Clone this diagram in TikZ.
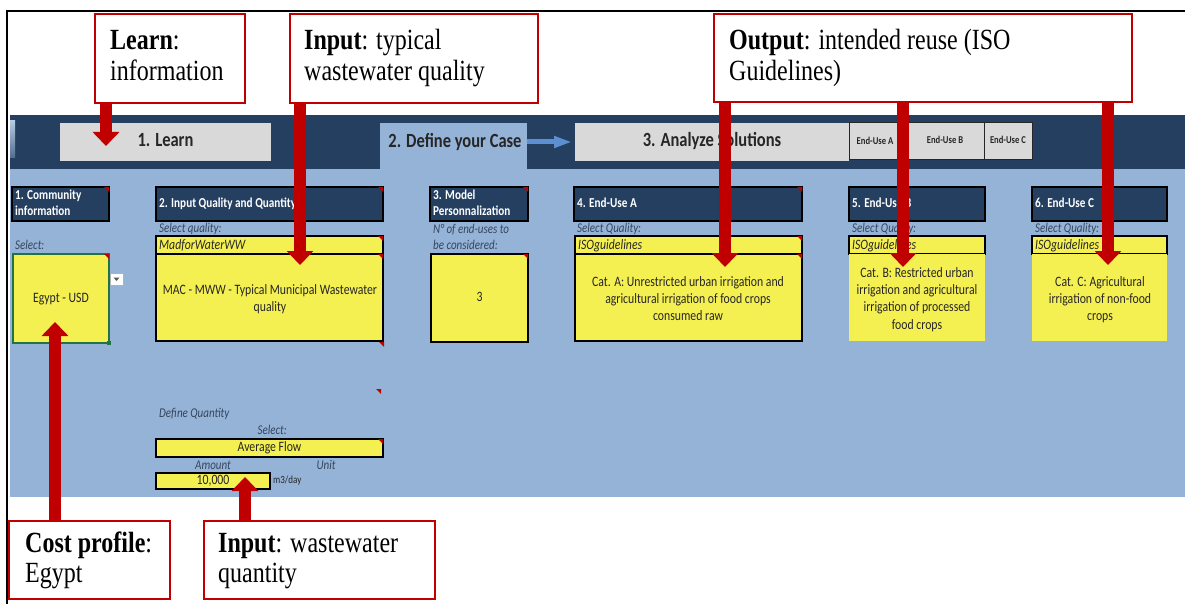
\documentclass[tikz,border=0pt]{standalone}
\usepackage{fontspec}
\usepackage{graphicx}
\setmainfont{Liberation Serif}
\newfontfamily\xl{Carlito}
\usetikzlibrary{arrows.meta,fit}

\definecolor{navy}{HTML}{243F60}
\definecolor{sky}{HTML}{95B3D7}
\definecolor{cellyel}{HTML}{F5F052}
\definecolor{btngray}{HTML}{D9D9D9}
\definecolor{callred}{HTML}{C00000}
\definecolor{lbl}{HTML}{34465F}
\definecolor{xlgreen}{HTML}{217346}
\definecolor{ink}{HTML}{262626}
\definecolor{flowblue}{HTML}{5B8FD0}

% text slightly stretched vertically, set line by line in a tabular
\newcommand\vs[1]{\scalebox{1}[1.22]{#1}}
\newcommand\lines[2]{\vs{\begin{tabular}{@{}#1@{}}#2\end{tabular}}}
% comment marker in the upper right corner of a cell
\newcommand\flag[1]{\fill[callred] ([xshift=-5pt]#1.north east) -- (#1.north east) -- ([yshift=-5pt]#1.north east) -- cycle;}

\begin{document}
\begin{tikzpicture}[x=1pt, y=-1pt,
  area/.style={inner sep=0pt, outer sep=0pt},
  hdr/.style={area, fill=navy, draw=black, line width=1.3pt},
  ycell/.style={area, fill=cellyel, draw=black, line width=1.3pt},
  yplain/.style={area, fill=cellyel},
  btn/.style={area, fill=btngray},
  tabbtn/.style={area, fill=btngray, draw=black!85, line width=1pt},
  callout/.style={area, fill=white, draw=callred, line width=2.5pt},
  callarrow/.style={draw=callred, line width=12pt, -{Triangle[width=26pt,length=14pt]}},
  flowarrow/.style={draw=flowblue, line width=5pt, shorten >=3pt, -{Triangle[width=11pt,length=18pt]}},
  ctext/.style={inner sep=0pt, font=\fontsize{24}{24.6}\selectfont},
  btntext/.style={inner sep=0pt, text=ink, font=\xl\bfseries\fontsize{16.5}{18}\selectfont},
  smallbtn/.style={inner sep=0pt, text=ink, font=\xl\bfseries\fontsize{8.6}{10}\selectfont},
  hdrtext/.style={inner sep=0pt, anchor=west, text=white, font=\xl\bfseries\fontsize{11.2}{13}\selectfont},
  celltext/.style={inner sep=0pt, text=ink, font=\xl\fontsize{11.75}{14}\selectfont},
  labeltext/.style={inner sep=0pt, text=lbl, font=\xl\itshape\fontsize{11}{13}\selectfont},
]
\useasboundingbox (0,0) rectangle (1185,604);
\fill[white] (0,0) rectangle (1185,604);

% ---------- worksheet background ----------
\node[area, fill=navy, fit={(10,115) (1185,169)}] (band) {};
\node[area, fill=sky, fit={(10,169) (1185,497)}] (sheet) {};
\node[area, top color=sky!70!white, bottom color=navy!60!sky, fit={(10,121) (15,158)}] (thumb) {};

% ---------- navigation bar ----------
\node[btn, fit={(60,123) (271,161)}] (btn1) {};
\node[area, fill=sky, fit={(380,123) (527,169)}] (tab2) {};
\node[btn, fit={(575,123) (849,161)}] (btn3) {};
\node[tabbtn, fit={(849,123) (906,160)}] (euA) {};
\node[tabbtn, fit={(906,123) (984,160)}] (euB) {};
\node[tabbtn, fit={(984,123) (1032,160)}] (euC) {};
\node[btntext] (t1) at (btn1) {\lines{c}{1. Learn}};
\node[btntext] (t2) at (455,143) {\lines{c}{2. Define your Case}};
\node[btntext] (t3) at (btn3) {\lines{c}{3. Analyze Solutions}};
\node[smallbtn] (tA) at (875,142) {\lines{c}{End-Use A}};
\node[smallbtn] (tB) at (euB) {\lines{c}{End-Use B}};
\node[smallbtn] (tC) at (euC) {\lines{c}{End-Use C}};
\draw[flowarrow] (tab2.east |- btn3.west) -- (btn3.west);

% ---------- section headers ----------
\node[hdr, fit={(12,187) (109,221)}] (h1) {};
\node[hdr, fit={(156,187) (383,221)}] (h2) {};
\node[hdr, fit={(430,187) (528,221)}] (h3) {};
\node[hdr, fit={(574,187) (802,221)}] (h4) {};
\node[hdr, fit={(849,187) (985,221)}] (h5) {};
\node[hdr, fit={(1032,187) (1167,221)}] (h6) {};
\node[hdrtext] (th1) at (15,204) {\lines{l}{1. Community\\information}};
\node[hdrtext] (th2) at (159,204) {\lines{l}{2. Input Quality and Quantity}};
\node[hdrtext] (th3) at (433,204) {\lines{l}{3. Model\\Personnalization}};
\node[hdrtext] (th4) at (577,204) {\lines{l}{4. End-Use A}};
\node[hdrtext] (th5) at (852,204) {\lines{l}{5. End-Use B}};
\node[hdrtext] (th6) at (1035,204) {\lines{l}{6. End-Use C}};
\flag{h1} \flag{h2} \flag{h3} \flag{h4}

% ---------- captions ----------
\node[labeltext, anchor=west] (l1) at (15,246) {\lines{l}{Select:}};
\node[labeltext, anchor=west] (l2) at (159,229) {\lines{l}{Select quality:}};
\node[labeltext, anchor=west] (l3) at (433,238) {\lines{l}{N° of end-uses to\\be considered:}};
\node[labeltext, anchor=west] (l4) at (577,229) {\lines{l}{Select Quality:}};
\node[labeltext, anchor=west] (l5) at (852,229) {\lines{l}{Select Quality:}};
\node[labeltext, anchor=west] (l6) at (1035,229) {\lines{l}{Select Quality:}};
\node[labeltext, anchor=west] (l7) at (159,414) {\lines{l}{Define Quantity}};
\node[labeltext, anchor=east] (l8) at (287,431) {\lines{l}{Select:}};
\node[labeltext] (l9) at (213,466) {\lines{c}{Amount}};
\node[labeltext] (l10) at (326,466) {\lines{c}{Unit}};

% ---------- input cells ----------
\node[area, fill=cellyel, draw=xlgreen, line width=1.5pt, fit={(13,254) (109,343)}] (egypt) {};
\fill[xlgreen] ([shift={(-2pt,-2pt)}]egypt.south east) rectangle ([shift={(2pt,2pt)}]egypt.south east);
\node[celltext] (tEgypt) at (61,299) {\lines{c}{Egypt - USD}};
\node[area, fill=white, draw=gray!60, line width=0.6pt, fit={(110,273) (123,285)}] (dd) {};
\fill[gray!70!black] ([shift={(-3pt,1.5pt)}]dd.center) -- ([shift={(3pt,1.5pt)}]dd.center) -- ([shift={(0pt,-2pt)}]dd.center) -- cycle;

\node[ycell, fit={(156,236) (383,254)}] (mad) {};
\node[ycell, fit={(156,254) (383,341)}] (mac) {};
\node[celltext, font=\xl\itshape\fontsize{11.75}{14}\selectfont, anchor=west] (tMad) at (159,246) {\lines{l}{MadforWaterWW}};
\node[celltext] (tMac) at (270,300) {\lines{c}{MAC - MWW - Typical Municipal Wastewater\\quality}};

\node[ycell, fit={(431,254) (528,342)}] (nbox) {};
\node[celltext] (tN) at (nbox) {\lines{c}{3}};

\node[ycell, fit={(575,236) (802,254)}] (isoA) {};
\node[ycell, fit={(575,254) (802,341)}] (catA) {};
\node[ycell, fit={(849,236) (985,254)}] (isoB) {};
\node[yplain, fit={(849,254) (985,341)}] (catB) {};
\node[ycell, fit={(1032,236) (1167,254)}] (isoC) {};
\node[yplain, fit={(1032,254) (1167,341)}] (catC) {};
\node[celltext, font=\xl\itshape\fontsize{11.75}{14}\selectfont, anchor=west] (tIsoA) at (578,246) {\lines{l}{ISOguidelines}};
\node[celltext, font=\xl\itshape\fontsize{11.75}{14}\selectfont, anchor=west] (tIsoB) at (852,246) {\lines{l}{ISOguidelines}};
\node[celltext, font=\xl\itshape\fontsize{11.75}{14}\selectfont, anchor=west] (tIsoC) at (1035,246) {\lines{l}{ISOguidelines}};
\node[celltext] (tCatA) at (688,300) {\lines{c}{Cat. A: Unrestricted urban irrigation and\\agricultural irrigation of food crops\\consumed raw}};
\node[celltext] (tCatB) at (917,300) {\lines{c}{Cat. B: Restricted urban\\irrigation and agricultural\\irrigation of processed\\food crops}};
\node[celltext] (tCatC) at (1100,300) {\lines{c}{Cat. C: Agricultural\\irrigation of non-food\\crops}};

\node[ycell, fit={(156,439) (383,457)}] (avg) {};
\node[celltext] (tAvg) at (avg) {\lines{c}{Average Flow}};
\node[ycell, fit={(156,473) (270,489)}] (amt) {};
\node[celltext] (tAmt) at (amt) {\lines{c}{10,000}};
\node[inner sep=0pt, text=ink, font=\xl\fontsize{9}{11}\selectfont, anchor=west] (tUnit) at (273,481) {\lines{l}{m3/day}};

\flag{egypt} \flag{mad} \flag{mac} \flag{nbox} \flag{isoA} \flag{catA} \flag{avg}
\fill[callred] (379,342) -- (384,342) -- (384,347) -- cycle;
\fill[callred] (376,389) -- (381,389) -- (381,394) -- cycle;

% ---------- outer frame ----------
\draw[line width=2.5pt] (7,604) -- (7,11) -- (1185,11);

% ---------- callouts ----------
\node[callout, fit={(95,14) (245,103)}] (cLearn) {};
\node[callout, fit={(290,14) (538,103)}] (cQual) {};
\node[callout, fit={(714,14) (1132,102)}] (cOut) {};
\node[callout, fit={(9,521) (170,599)}] (cCost) {};
\node[callout, fit={(204,521) (435,599)}] (cQty) {};
\node[ctext, anchor=west] (xLearn) at (110,59) {\lines{l}{\textbf{Learn}:\\information}};
\node[ctext, anchor=west] (xQual) at (304,59) {\lines{l}{\textbf{Input}: typical\\wastewater quality}};
\node[ctext, anchor=west] (xOut) at (729,59) {\lines{l}{\textbf{Output}: intended reuse (ISO\\Guidelines)}};
\node[ctext, anchor=west] (xCost) at (25,561) {\lines{l}{\textbf{Cost profile}:\\Egypt}};
\node[ctext, anchor=west] (xQty) at (218,561) {\lines{l}{\textbf{Input}: wastewater\\quantity}};

% ---------- pointers ----------
\coordinate (pLearn) at (106,146);
\coordinate (pQual) at (300,265);
\coordinate (pA) at (725,267);
\coordinate (pB) at (903,267);
\coordinate (pC) at (1108,265);
\coordinate (pCost) at (55,322);
\coordinate (pQty) at (245,477);
\draw[callarrow] (cLearn.south -| pLearn) -- (pLearn);
\draw[callarrow] (cQual.south -| pQual) -- (pQual);
\draw[callarrow] (cOut.south -| pA) -- (pA);
\draw[callarrow] (cOut.south -| pB) -- (pB);
\draw[callarrow] (cOut.south -| pC) -- (pC);
\draw[callarrow] (cCost.north -| pCost) -- (pCost);
\draw[callarrow] (cQty.north -| pQty) -- (pQty);
\end{tikzpicture}
\end{document}
